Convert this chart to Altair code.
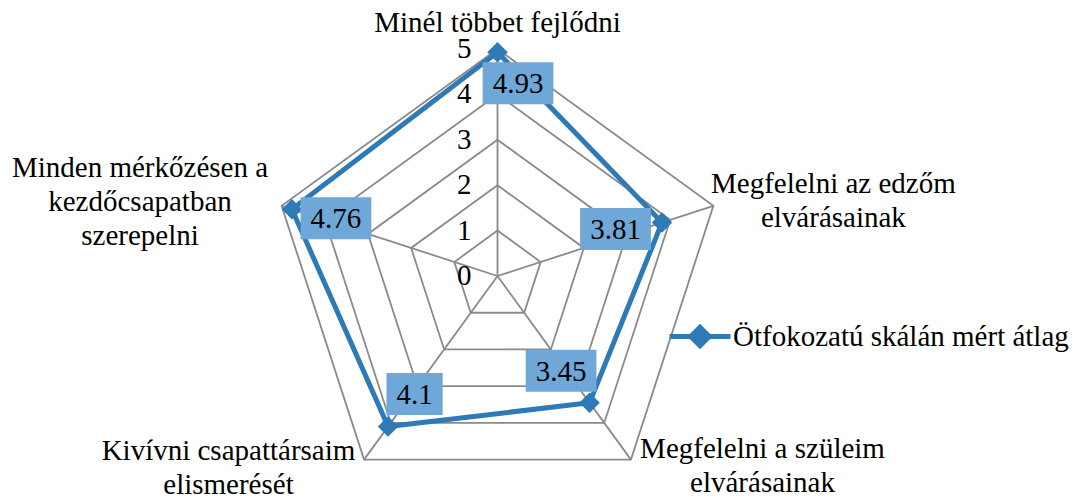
import altair as alt
import pandas as pd

# ---- data ----
categories = [
    "Minél többet fejlődni",
    "Megfelelni az edzőm\nelvárásainak",
    "Megfelelni a szüleim\nelvárásainak",
    "Kivívni csapattársaim\nelismerését",
    "Minden mérkőzésen a\nkezdőcsapatban\nszerepelni",
]
values = [4.93, 3.81, 3.45, 4.1, 4.76]
value_labels = ["4.93", "3.81", "3.45", "4.1", "4.76"]
ticks = [0, 1, 2, 3, 4, 5]
series_name = "Ötfokozatú skálán mért átlag"

# ---- styles ----
FONT = "Liberation Serif"
FS = 29
BLUE = "#2E7AB7"
BOX = "#6FA8D8"
GRID = "#8A8A8A"
W, H = 1066, 489
UNIT = 45.4
CX, CY = 489.5, 268.0
X_DOM = [-CX / UNIT, (W - CX) / UNIT]
Y_DOM = [(CY - H) / UNIT, CY / UNIT]

n = len(categories)
rmax = max(ticks)

main = pd.DataFrame({"idx": list(range(n)), "cat": categories, "value": values,
                     "label": value_labels, "series": [series_name] * n})
closed = pd.DataFrame({"idx": list(range(n)) + [0], "ord": list(range(n + 1)),
                       "value": values + [values[0]]})
rings = pd.DataFrame([{"r": r, "k": k, "ord": k} for r in ticks[1:] for k in range(n + 1)])
spokes = pd.DataFrame({"k": list(range(n)), "r": [rmax] * n})
tick_df = pd.DataFrame({"t": ticks, "txt": [str(t) for t in ticks]})

xs = alt.Scale(domain=X_DOM, nice=False, zero=False)
ys = alt.Scale(domain=Y_DOM, nice=False, zero=False)


def X(f):
    return alt.X(f, type="quantitative", scale=xs, axis=None)


def Y(f):
    return alt.Y(f, type="quantitative", scale=ys, axis=None)


ang = "2*PI*datum.{0}/" + str(n)

grid_rings = alt.Chart(rings).transform_calculate(
    px=f"datum.r*sin({ang.format('k')})", py=f"datum.r*cos({ang.format('k')})"
).mark_line(stroke=GRID, strokeWidth=1.8).encode(
    x=X("px"), y=Y("py"), detail="r:N", order="ord:Q"
)

grid_spokes = alt.Chart(spokes).transform_calculate(
    px=f"datum.r*sin({ang.format('k')})", py=f"datum.r*cos({ang.format('k')})",
    zero="0"
).mark_rule(stroke=GRID, strokeWidth=1.8).encode(
    x=X("zero"), y=Y("zero"), x2="px:Q", y2="py:Q"
)

tick_text = alt.Chart(tick_df).transform_calculate(zero="0").mark_text(
    font=FONT, fontSize=FS, align="right", baseline="middle", dx=-26, color="black"
).encode(x=X("zero"), y=Y("t"), text="txt:N")

line = alt.Chart(closed).transform_calculate(
    px=f"datum.value*sin({ang.format('idx')})", py=f"datum.value*cos({ang.format('idx')})"
).mark_line(color=BLUE, strokeWidth=5, strokeJoin="miter").encode(
    x=X("px"), y=Y("py"), order="ord:Q"
)

pts = alt.Chart(main).transform_calculate(
    px=f"datum.value*sin({ang.format('idx')})", py=f"datum.value*cos({ang.format('idx')})"
).mark_point(shape="diamond", filled=True, size=420, opacity=1).encode(
    x=X("px"), y=Y("py"),
    color=alt.Color("series:N", scale=alt.Scale(range=[BLUE]),
                    legend=alt.Legend(
                        title=None, orient="none", legendX=659, legendY=295.5,
                        symbolType="M-1,0H1M-0.3,0L0,-0.3L0.3,0L0,0.3Z",
                        symbolSize=3721, symbolStrokeWidth=5,
                        symbolStrokeColor=BLUE, symbolFillColor=BLUE,
                        labelFont=FONT, labelFontSize=FS, labelColor="black",
                        labelOffset=0, labelLimit=600, padding=0)),
)

box_offsets = [(20.5, 31), (-46.5, 6.5), (-28.5, -32), (26.5, -32.5), (44, 9)]
cat_offsets = [(0, -17), (120, -13), (131.6, -1.6), (-135.6, 0.4), (-141.6, -29)]

layers = [grid_rings, grid_spokes, tick_text, line, pts]

for i in range(n):
    lbl = value_labels[i]
    digits = sum(c.isdigit() for c in lbl)
    dots = len(lbl) - digits
    bw = FS * (0.5 * digits + 0.25 * dots) + 20
    bdx, bdy = box_offsets[i]
    base = alt.Chart(main).transform_filter(f"datum.idx == {i}").transform_calculate(
        px=f"datum.value*sin({ang.format('idx')})", py=f"datum.value*cos({ang.format('idx')})"
    )
    layers.append(base.mark_rect(width=bw, height=42, fill=BOX, xOffset=bdx, yOffset=bdy)
                  .encode(x=X("px"), y=Y("py")))
    layers.append(base.mark_text(font=FONT, fontSize=FS, color="black", align="center",
                                 baseline="middle", dx=bdx, dy=bdy + 1)
                  .encode(x=X("px"), y=Y("py"), text="label:N"))
    cdx, cdy = cat_offsets[i]
    cbase = alt.Chart(main).transform_filter(f"datum.idx == {i}").transform_calculate(
        px=f"{rmax}*sin({ang.format('idx')})", py=f"{rmax}*cos({ang.format('idx')})"
    )
    layers.append(cbase.mark_text(font=FONT, fontSize=FS, color="black", align="center",
                                  baseline="alphabetic", lineBreak="\n", lineHeight=34,
                                  dx=cdx, dy=cdy)
                  .encode(x=X("px"), y=Y("py"), text="cat:N"))

chart = alt.layer(*layers).properties(
    width=W, height=H, autosize=alt.AutoSizeParams(type="none"), padding=0
).configure(background="white").configure_view(stroke="transparent", strokeWidth=0)

chart.save("out.html", embed_options={"renderer": "svg", "actions": False})
